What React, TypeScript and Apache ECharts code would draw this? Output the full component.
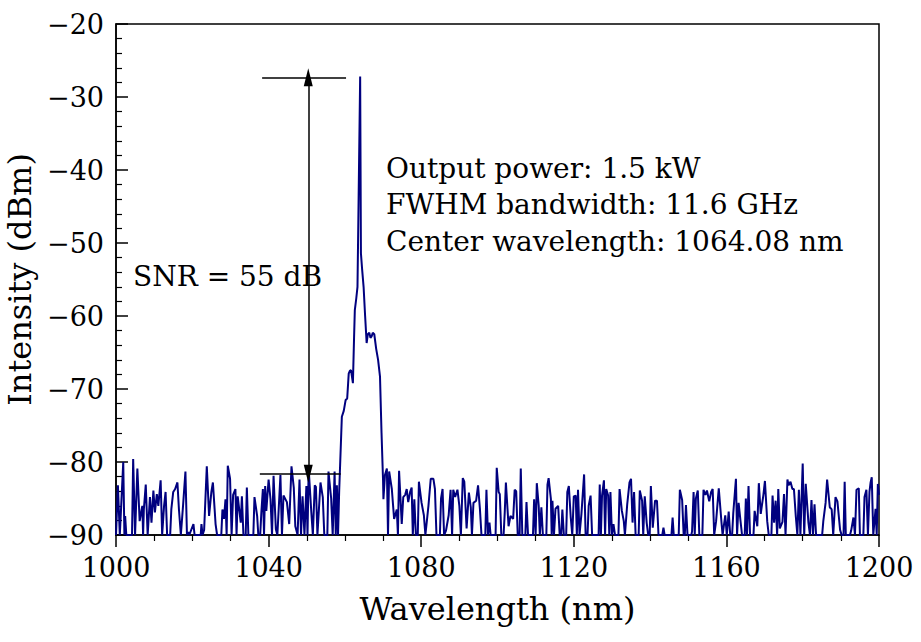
import React, { useEffect, useRef } from 'react';
import * as echarts from 'echarts';

// Noise floor left of the peak (wavelength nm, intensity dBm)
const noiseLeft: [number, number][] = [
  [1000.0,-90],[1000.5,-83.2],[1001.0,-90],[1001.9,-80.0],[1002.2,-90],[1002.4,-87.4],[1002.7,-90],[1004.2,-90],[1004.5,-79.6],[1005.0,-90],[1005.6,-80.9],[1006.2,-88.1],[1006.9,-86.0],[1007.1,-90],[1007.3,-86.5],[1007.8,-83.1],[1008.3,-90],[1008.9,-84.8],[1009.3,-88.3],[1009.8,-83.9],[1010.2,-86.9],[1010.7,-84.4],[1011.1,-86.0],[1011.7,-82.5],[1012.1,-90],[1012.6,-86.0],[1013.0,-84.1],[1013.4,-90],[1014.2,-90],[1014.5,-86.5],[1015.0,-84.1],[1015.5,-83.7],[1016.1,-82.8],[1016.5,-86.5],[1017.0,-90],[1017.6,-85.8],[1018.2,-81.3],[1018.6,-90],[1018.9,-89.6],[1019.2,-90],[1020.3,-88.5],[1020.6,-90],[1022.2,-90],[1022.4,-88.5],[1022.7,-90],[1023.1,-89.3],[1023.8,-80.6],[1024.4,-87.4],[1025.0,-84.1],[1025.4,-82.8],[1026.1,-88.5],[1026.5,-90],[1027.6,-90],[1027.9,-86.5],[1028.3,-87.8],[1028.7,-85.1],[1029.0,-90],[1029.3,-80.5],[1029.9,-82.3],[1030.3,-90],[1030.7,-84.5],[1031.3,-83.7],[1031.6,-90],[1031.9,-84.7],[1032.7,-88.3],[1033.0,-84.7],[1033.4,-90],[1034.0,-90],[1034.3,-83.5],[1034.7,-90],[1036.0,-90],[1036.3,-84.8],[1037.0,-87.4],[1037.3,-90],[1037.8,-90],[1038.1,-86.9],[1038.5,-83.7],[1038.8,-90],[1039.1,-83.3],[1039.4,-86.7],[1040.0,-82.4],[1040.5,-85.1],[1040.9,-90],[1041.3,-81.9],[1041.9,-89.2],[1042.3,-90],[1043.1,-81.8],[1043.5,-90],[1043.9,-84.6],[1044.8,-85.5],[1045.4,-88.5],[1046.0,-80.6],[1046.6,-83.5],[1047.0,-88.8],[1047.6,-90],[1048.1,-82.4],[1048.5,-90],[1048.9,-84.7],[1049.4,-90],[1049.9,-83.3],[1050.2,-90],[1050.5,-80.9],[1051.2,-86.9],[1051.6,-90],[1052.1,-83.2],[1052.4,-83.4],[1052.8,-90],[1053.6,-82.8],[1054.2,-84.8],[1054.6,-90],[1055.4,-90],[1055.7,-81.3],[1056.4,-85.0],[1056.8,-90],[1057.3,-81.3],[1057.6,-90],[1057.9,-83.2],[1058.2,-90],
];

// Main emission peak
const peak: [number, number][] = [
  [1058.5,-84.0],[1059.2,-73.8],[1059.7,-73.0],[1060.2,-71.5],[1060.6,-71.3],[1061.0,-67.9],[1061.3,-67.5],[1061.6,-67.4],[1062.1,-69.2],[1062.4,-63.0],[1062.6,-59.2],[1063.0,-57.5],[1063.3,-56.0],[1064.0,-27.2],[1064.2,-51.4],[1064.5,-53.5],[1064.9,-56.0],[1065.3,-60.0],[1065.7,-63.7],[1066.0,-62.5],[1066.4,-62.3],[1066.7,-63.0],[1067.0,-62.8],[1067.3,-62.3],[1067.7,-62.5],[1068.2,-64.5],[1068.7,-66.0],[1069.2,-68.3],[1069.6,-76.0],[1070.0,-82.5],[1070.1,-85.1],[1070.5,-81.8],[1071.0,-80.9],
];

// Noise floor right of the peak
const noiseRight: [number, number][] = [
  [1071.3,-90],[1071.6,-81.3],[1072.3,-83.7],[1072.9,-87.8],[1073.6,-86.5],[1073.9,-90],[1074.2,-81.2],[1074.9,-88.5],[1075.3,-84.8],[1075.8,-84.5],[1076.2,-83.7],[1076.6,-85.5],[1077.1,-84.1],[1077.5,-83.5],[1077.8,-90],[1078.2,-85.1],[1078.6,-90],[1079.1,-90],[1079.4,-82.7],[1080.1,-85.6],[1080.7,-87.3],[1081.1,-90],[1081.9,-86.0],[1082.5,-82.3],[1083.2,-82.3],[1083.6,-83.7],[1084.0,-90],[1084.9,-90],[1085.2,-85.0],[1085.6,-83.7],[1086.0,-90],[1086.5,-89.4],[1087.2,-87.3],[1087.7,-83.8],[1088.1,-90],[1088.4,-83.8],[1088.9,-84.8],[1089.5,-83.8],[1090.0,-86.0],[1090.4,-90],[1090.9,-82.2],[1091.3,-82.7],[1091.9,-89.1],[1092.5,-84.2],[1093.0,-86.2],[1093.3,-90],[1093.7,-85.6],[1094.4,-85.3],[1094.9,-83.2],[1095.4,-86.5],[1095.8,-90],[1096.8,-90],[1097.1,-83.8],[1097.5,-90],[1097.9,-88.3],[1098.2,-90],[1099.5,-90],[1099.8,-80.8],[1100.3,-84.1],[1100.6,-84.4],[1101.0,-90],[1101.6,-90],[1101.9,-86.9],[1102.2,-82.8],[1102.9,-88.8],[1103.4,-87.4],[1104.1,-87.8],[1104.5,-83.8],[1104.9,-84.0],[1105.3,-90],[1105.8,-90],[1106.1,-80.9],[1106.5,-90],[1107.3,-90],[1107.6,-85.5],[1108.0,-90],[1109.3,-90],[1109.6,-85.1],[1110.0,-90],[1110.3,-82.9],[1110.8,-86.0],[1111.1,-90],[1111.5,-86.2],[1111.9,-90],[1112.8,-90],[1113.1,-83.1],[1113.4,-82.2],[1114.0,-85.1],[1114.2,-90],[1114.4,-85.3],[1114.8,-90],[1115.2,-86.4],[1115.9,-86.0],[1116.3,-90],[1116.7,-90],[1117.0,-86.5],[1117.4,-90],[1118.0,-90],[1118.3,-84.1],[1118.7,-83.3],[1119.2,-87.6],[1119.6,-90],[1120.0,-84.7],[1120.5,-84.6],[1120.8,-90],[1121.1,-83.8],[1121.5,-90],[1122.0,-87.1],[1122.7,-81.7],[1123.1,-90],[1123.6,-90],[1123.9,-86.0],[1124.4,-84.6],[1124.8,-90],[1126.5,-90],[1126.8,-83.1],[1127.1,-90],[1127.4,-84.6],[1127.9,-82.5],[1128.2,-90],[1128.5,-83.7],[1129.0,-84.6],[1129.3,-90],[1129.6,-84.1],[1130.0,-90],[1130.4,-88.5],[1130.8,-90],[1131.7,-90],[1132.0,-83.7],[1132.6,-86.7],[1133.1,-88.1],[1133.4,-90],[1134.0,-85.8],[1134.6,-82.8],[1135.0,-82.3],[1135.4,-88.3],[1135.8,-84.1],[1136.2,-90],[1137.0,-90],[1137.3,-83.9],[1137.9,-85.3],[1138.2,-90],[1138.6,-84.7],[1139.1,-88.3],[1139.5,-90],[1139.9,-90],[1140.2,-83.3],[1140.7,-89.0],[1141.3,-85.3],[1141.8,-85.3],[1142.2,-90],[1143.2,-90],[1143.5,-89.0],[1143.8,-90],[1145.6,-90],[1145.9,-87.6],[1146.2,-90],[1147.5,-90],[1147.8,-83.8],[1148.4,-85.2],[1148.8,-90],[1149.1,-90],[1149.4,-85.9],[1149.8,-90],[1150.8,-90],[1151.0,-89.5],[1151.4,-84.1],[1151.7,-90],[1152.0,-85.0],[1152.5,-83.9],[1152.9,-90],[1153.7,-90],[1154.0,-83.8],[1154.5,-84.5],[1154.9,-83.9],[1155.5,-85.4],[1156.0,-84.1],[1156.4,-83.7],[1156.8,-90],[1157.3,-88.1],[1158.0,-83.6],[1158.7,-88.2],[1159.0,-90],[1159.7,-87.3],[1160.1,-90],[1160.6,-86.8],[1161.0,-90],[1161.5,-90],[1161.8,-87.0],[1162.5,-82.3],[1162.8,-90],[1163.2,-85.6],[1163.7,-88.1],[1164.1,-90],[1164.8,-90],[1165.1,-85.0],[1165.4,-90],[1165.8,-83.3],[1166.2,-90],[1167.1,-90],[1167.4,-86.7],[1168.1,-88.8],[1168.5,-82.9],[1169.0,-87.1],[1169.7,-84.5],[1170.1,-82.6],[1170.7,-88.1],[1171.1,-90],[1171.8,-90],[1172.1,-84.6],[1172.5,-88.3],[1172.9,-85.3],[1173.3,-90],[1173.6,-83.7],[1174.0,-89.1],[1174.7,-88.2],[1175.1,-84.4],[1175.5,-90],[1176.0,-82.4],[1176.3,-83.2],[1176.8,-82.7],[1177.3,-83.7],[1177.7,-83.7],[1178.2,-87.5],[1178.6,-90],[1179.0,-83.8],[1179.4,-90],[1180.0,-80.2],[1180.4,-90],[1180.8,-83.0],[1181.5,-88.3],[1181.9,-90],[1182.3,-85.2],[1182.7,-90],[1183.1,-85.8],[1183.5,-90],[1185.1,-90],[1185.4,-88.1],[1186.0,-85.6],[1186.4,-82.4],[1187.1,-86.2],[1187.6,-86.5],[1188.0,-90],[1188.6,-84.8],[1189.1,-85.4],[1189.8,-89.3],[1190.2,-90],[1190.7,-90],[1191.0,-82.7],[1191.3,-90],[1192.4,-90],[1192.7,-89.4],[1193.3,-87.6],[1193.7,-90],[1194.1,-83.8],[1194.7,-83.6],[1195.0,-90],[1195.9,-90],[1196.2,-84.8],[1196.7,-83.8],[1197.1,-90],[1197.5,-84.1],[1197.8,-82.8],[1198.1,-82.1],[1198.5,-90],[1199.1,-86.4],[1199.4,-90],[1199.7,-83.0],[1200.0,-84.5],
];

// SNR annotation (data coordinates)
const snrTopLevel = -27.3;
const snrFloorLevel = -81.6;
const snrArrowX = 1050.4;
const snrTopSpan = [1038.3, 1060.3];
const snrFloorSpan = [1037.7, 1058.9];

const infoLines = [
  'Output power: 1.5 kW',
  'FWHM bandwidth: 11.6 GHz',
  'Center wavelength: 1064.08 nm',
];
const snrLabel = 'SNR = 55 dB';

const FONT = '"DejaVu Serif", serif';

export default function App() {
  const ref = useRef<HTMLDivElement>(null);
  useEffect(() => {
    if (!ref.current) return;
    const chart = echarts.init(ref.current, undefined, { renderer: 'svg' });
    const spectrum = [...noiseLeft, ...peak, ...noiseRight];
    chart.setOption({
      animation: false,
      backgroundColor: '#fff',
      grid: {
        left: 116, right: 42, top: 24, bottom: 107,
        outerBoundsMode: 'none', containLabel: false,
        show: true, borderColor: '#000', borderWidth: 1.5,
      },
      xAxis: {
        type: 'value', min: 1000, max: 1200, interval: 40,
        name: 'Wavelength (nm)', nameLocation: 'middle', nameGap: 58,
        nameTextStyle: { fontFamily: FONT, fontSize: 32, color: '#000' },
        axisLine: { lineStyle: { color: '#000', width: 1.5 } },
        axisTick: { inside: false, length: 12, lineStyle: { color: '#000', width: 1.5 } },
        minorTick: { show: true, splitNumber: 4, length: 6, lineStyle: { color: '#000', width: 1.2 } },
        axisLabel: {
          fontFamily: FONT, fontSize: 27, color: '#000', margin: 19,
          formatter: (v: number) => String(v),
        },
        splitLine: { show: false },
      },
      yAxis: {
        type: 'value', min: -90, max: -20, interval: 10,
        name: 'Intensity (dBm)', nameLocation: 'middle', nameGap: 68,
        nameTextStyle: { fontFamily: FONT, fontSize: 32, color: '#000' },
        axisLine: { lineStyle: { color: '#000', width: 1.5 } },
        axisTick: { inside: true, length: 12, lineStyle: { color: '#000', width: 1.5 } },
        minorTick: { show: true, splitNumber: 5, length: 6, lineStyle: { color: '#000', width: 1.2 } },
        axisLabel: {
          fontFamily: FONT, fontSize: 27, color: '#000', margin: 12,
          formatter: (v: number) => (v < 0 ? '\u2212' + Math.abs(v) : String(v)),
        },
        splitLine: { show: false },
      },
      series: [
        {
          type: 'line',
          data: spectrum,
          showSymbol: false,
          lineStyle: { color: '#00007f', width: 2 },
          z: 3,
          markLine: {
            silent: true,
            symbol: ['none', 'none'],
            label: { show: false },
            lineStyle: { color: '#000', width: 1.5, type: 'solid' },
            data: [
              [{ coord: [snrTopSpan[0], snrTopLevel] }, { coord: [snrTopSpan[1], snrTopLevel] }],
              [{ coord: [snrFloorSpan[0], snrFloorLevel] }, { coord: [snrFloorSpan[1], snrFloorLevel] }],
              [
                { coord: [snrArrowX, snrTopLevel], symbol: 'triangle', symbolSize: [9, 18], symbolRotate: 0 },
                { coord: [snrArrowX, snrFloorLevel], symbol: 'triangle', symbolSize: [9, 18], symbolRotate: 180 },
              ],
            ],
          },
        },
      ],
      graphic: [
        {
          type: 'text', left: 133, top: 262,
          style: { text: snrLabel, font: `28px ${FONT}`, fill: '#000' },
        },
        {
          type: 'text', left: 386, top: 150,
          style: { text: infoLines.join('\n'), font: `28px ${FONT}`, lineHeight: 36.5, fill: '#000' },
        },
      ],
    });
    return () => chart.dispose();
  }, []);
  return <div ref={ref} style={{ position: 'absolute', left: 0, top: 0, width: 921, height: 642 }} />;
}
